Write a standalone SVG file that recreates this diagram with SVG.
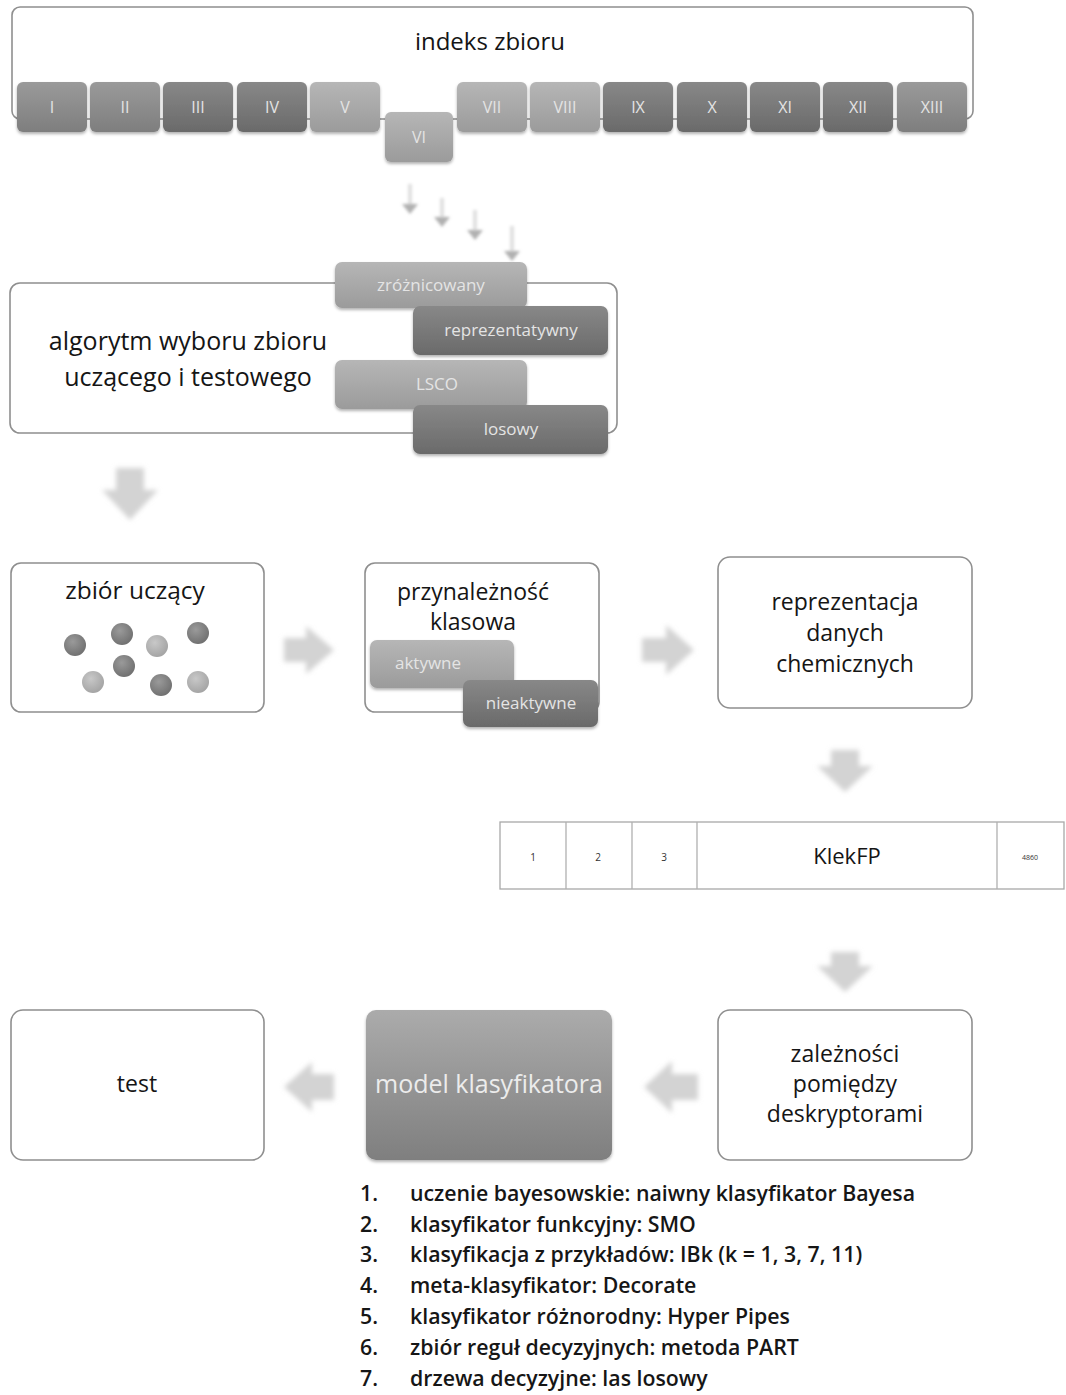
<svg xmlns="http://www.w3.org/2000/svg" width="1066" height="1395" viewBox="0 0 1066 1395">
  <style>
    .frame { fill: #ffffff; stroke: #8f8f8f; stroke-width: 1.6; }
    .lbl { font-family: "Open Sans", Lato, sans-serif; fill: #151515; text-anchor: middle; }
    .big { font-size: 23px; }
    .chip { font-family: "Open Sans", Lato, sans-serif; font-size: 16px; fill: #e4e4e4; text-anchor: middle; }
    .meth { font-size: 17px; }
    .cell { font-family: "Open Sans", Lato, sans-serif; fill: #333; text-anchor: middle; }
    .list { font-family: "Open Sans", Lato, sans-serif; font-size: 21.3px; font-weight: 600; fill: #161616; }
    .flow { fill: #d3d3d3; filter: url(#soft); }
    .thin { fill: #e0e0e0; filter: url(#soft1); }
    .thinhead { fill: #b0b0b0; filter: url(#soft1); }
  </style>
  <defs>
    <linearGradient id="gDark" x1="0" y1="0" x2="0" y2="1">
      <stop offset="0" stop-color="#888888"/>
      <stop offset="1" stop-color="#6a6a6a"/>
    </linearGradient>
    <linearGradient id="gMid" x1="0" y1="0" x2="0" y2="1">
      <stop offset="0" stop-color="#9a9a9a"/>
      <stop offset="1" stop-color="#7e7e7e"/>
    </linearGradient>
    <linearGradient id="gLight" x1="0" y1="0" x2="0" y2="1">
      <stop offset="0" stop-color="#b6b6b6"/>
      <stop offset="1" stop-color="#9b9b9b"/>
    </linearGradient>
    <linearGradient id="gModel" x1="0" y1="0" x2="0" y2="1">
      <stop offset="0" stop-color="#ababab"/>
      <stop offset="1" stop-color="#7f7f7f"/>
    </linearGradient>
    <radialGradient id="dotDark" cx="0.4" cy="0.35" r="0.7">
      <stop offset="0" stop-color="#9a9a9a"/>
      <stop offset="1" stop-color="#6e6e6e"/>
    </radialGradient>
    <radialGradient id="dotLight" cx="0.4" cy="0.35" r="0.7">
      <stop offset="0" stop-color="#c8c8c8"/>
      <stop offset="1" stop-color="#a2a2a2"/>
    </radialGradient>
    <filter id="shadow" x="-10%" y="-20%" width="120%" height="150%">
      <feDropShadow dx="0" dy="2" stdDeviation="1.8" flood-color="#000" flood-opacity="0.3"/>
    </filter>
    <filter id="soft" x="-30%" y="-30%" width="160%" height="160%">
      <feGaussianBlur stdDeviation="2.5"/>
    </filter>
    <filter id="soft1" filterUnits="userSpaceOnUse" x="380" y="170" width="160" height="100">
      <feGaussianBlur stdDeviation="1.8"/>
    </filter>
  </defs>

  <rect width="1066" height="1395" fill="#ffffff"/>

  <!-- dataset index panel with thirteen chips -->
  <g id="indeks">
    <rect class="frame" x="12" y="7" width="961" height="112" rx="8"/>
    <text class="lbl" x="490" y="50" font-size="24">indeks zbioru</text>
    <g filter="url(#shadow)">
      <rect x="17" y="82" width="70" height="50" rx="6" fill="url(#gMid)"/>
      <rect x="90" y="82" width="70" height="50" rx="6" fill="url(#gMid)"/>
      <rect x="163" y="82" width="70" height="50" rx="6" fill="url(#gDark)"/>
      <rect x="237" y="82" width="70" height="50" rx="6" fill="url(#gDark)"/>
      <rect x="310" y="82" width="70" height="50" rx="6" fill="url(#gLight)"/>
      <rect x="385" y="112" width="68" height="50" rx="6" fill="url(#gLight)"/>
      <rect x="457" y="82" width="70" height="50" rx="6" fill="url(#gLight)"/>
      <rect x="530" y="82" width="70" height="50" rx="6" fill="url(#gLight)"/>
      <rect x="603" y="82" width="70" height="50" rx="6" fill="url(#gDark)"/>
      <rect x="677" y="82" width="70" height="50" rx="6" fill="url(#gDark)"/>
      <rect x="750" y="82" width="70" height="50" rx="6" fill="url(#gDark)"/>
      <rect x="823" y="82" width="70" height="50" rx="6" fill="url(#gDark)"/>
      <rect x="897" y="82" width="70" height="50" rx="6" fill="url(#gMid)"/>
    </g>
    <text class="chip" x="52" y="113">I</text>
    <text class="chip" x="125" y="113">II</text>
    <text class="chip" x="198" y="113">III</text>
    <text class="chip" x="272" y="113">IV</text>
    <text class="chip" x="345" y="113">V</text>
    <text class="chip" x="419" y="143">VI</text>
    <text class="chip" x="492" y="113">VII</text>
    <text class="chip" x="565" y="113">VIII</text>
    <text class="chip" x="638" y="113">IX</text>
    <text class="chip" x="712" y="113">X</text>
    <text class="chip" x="785" y="113">XI</text>
    <text class="chip" x="858" y="113">XII</text>
    <text class="chip" x="932" y="113">XIII</text>
  </g>

  <!-- selection algorithm with four methods -->
  <g id="algorytm">
    <rect class="frame" x="10" y="283" width="607" height="150" rx="10"/>
    <text class="lbl" x="188" y="350" font-size="25">algorytm wyboru zbioru</text>
    <text class="lbl" x="188" y="386" font-size="25">uczącego i testowego</text>
    <g filter="url(#shadow)">
      <rect x="335" y="262" width="192" height="46" rx="7" fill="url(#gLight)"/>
      <rect x="413" y="306" width="195" height="49" rx="7" fill="url(#gDark)"/>
      <rect x="335" y="360" width="192" height="49" rx="7" fill="url(#gLight)"/>
      <rect x="413" y="405" width="195" height="49" rx="7" fill="url(#gDark)"/>
    </g>
    <text class="chip meth" x="431" y="291">zróżnicowany</text>
    <text class="chip meth" x="511" y="336">reprezentatywny</text>
    <text class="chip meth" x="437" y="390">LSCO</text>
    <text class="chip meth" x="511" y="435">losowy</text>
  </g>

  <!-- training set -->
  <g id="zbior-uczacy">
    <rect class="frame" x="11" y="563" width="253" height="149" rx="10"/>
    <text class="lbl" x="135" y="599" font-size="24.5">zbiór uczący</text>
    <circle cx="75" cy="645" r="11" fill="url(#dotDark)"/>
    <circle cx="122" cy="634" r="11" fill="url(#dotDark)"/>
    <circle cx="157" cy="646" r="11" fill="url(#dotLight)"/>
    <circle cx="198" cy="633" r="11" fill="url(#dotDark)"/>
    <circle cx="124" cy="666" r="11" fill="url(#dotDark)"/>
    <circle cx="93" cy="682" r="11" fill="url(#dotLight)"/>
    <circle cx="161" cy="685" r="11" fill="url(#dotDark)"/>
    <circle cx="198" cy="682" r="11" fill="url(#dotLight)"/>
  </g>

  <!-- class membership -->
  <g id="przynaleznosc">
    <rect class="frame" x="365" y="563" width="234" height="149" rx="10"/>
    <text class="lbl big" x="473" y="600">przynależność</text>
    <text class="lbl big" x="473" y="630">klasowa</text>
    <g filter="url(#shadow)">
      <rect x="370" y="640" width="144" height="48" rx="7" fill="url(#gLight)"/>
      <rect x="463" y="680" width="135" height="47" rx="7" fill="url(#gDark)"/>
    </g>
    <text class="chip meth" x="428" y="669">aktywne</text>
    <text class="chip meth" x="531" y="709">nieaktywne</text>
  </g>

  <!-- chemical data representation -->
  <g id="reprezentacja">
    <rect class="frame" x="718" y="557" width="254" height="151" rx="12"/>
    <text class="lbl big" x="845" y="610">reprezentacja</text>
    <text class="lbl big" x="845" y="641">danych</text>
    <text class="lbl big" x="845" y="672">chemicznych</text>
  </g>

  <!-- fingerprint bit vector -->
  <g id="klekfp">
    <rect x="500" y="822" width="564" height="67" fill="#ffffff" stroke="#a8a8a8" stroke-width="1.3"/>
    <g stroke="#b0b0b0" stroke-width="1.3">
      <line x1="566" y1="822" x2="566" y2="889"/>
      <line x1="632" y1="822" x2="632" y2="889"/>
      <line x1="697" y1="822" x2="697" y2="889"/>
      <line x1="997" y1="822" x2="997" y2="889"/>
    </g>
    <text class="cell" x="533" y="861" font-size="10">1</text>
    <text class="cell" x="598" y="861" font-size="10">2</text>
    <text class="cell" x="664" y="861" font-size="10">3</text>
    <text class="lbl" x="847" y="864" font-size="22">KlekFP</text>
    <text class="cell" x="1030" y="860" font-size="7">4860</text>
  </g>

  <!-- test -->
  <g id="test">
    <rect class="frame" x="11" y="1010" width="253" height="150" rx="12"/>
    <text class="lbl big" x="137" y="1092">test</text>
  </g>

  <!-- classifier model -->
  <g id="model">
    <rect x="366" y="1010" width="246" height="150" rx="10" fill="url(#gModel)" filter="url(#shadow)"/>
    <text class="lbl" x="489" y="1093" font-size="25" style="fill:#ececec">model klasyfikatora</text>
  </g>

  <!-- descriptor dependencies -->
  <g id="zaleznosci">
    <rect class="frame" x="718" y="1010" width="254" height="150" rx="12"/>
    <text class="lbl big" x="845" y="1062">zależności</text>
    <text class="lbl big" x="845" y="1092">pomiędzy</text>
    <text class="lbl big" x="845" y="1122">deskryptorami</text>
  </g>

  <!-- classifier list -->
  <g id="lista" class="list">
    <text x="360" y="1201">1.</text><text x="410" y="1201">uczenie bayesowskie: naiwny klasyfikator Bayesa</text>
    <text x="360" y="1232">2.</text><text x="410" y="1232">klasyfikator funkcyjny: SMO</text>
    <text x="360" y="1262">3.</text><text x="410" y="1262">klasyfikacja z przykładów: IBk (k = 1, 3, 7, 11)</text>
    <text x="360" y="1293">4.</text><text x="410" y="1293">meta-klasyfikator: Decorate</text>
    <text x="360" y="1324">5.</text><text x="410" y="1324">klasyfikator różnorodny: Hyper Pipes</text>
    <text x="360" y="1355">6.</text><text x="410" y="1355">zbiór reguł decyzyjnych: metoda PART</text>
    <text x="360" y="1386">7.</text><text x="410" y="1386">drzewa decyzyjne: las losowy</text>
  </g>

  <!-- connectors -->
  <g id="connectors">
    <!-- four thin arrows from chip VI to the methods -->
    <rect class="thin" x="408" y="184" width="4" height="22"/>
    <path class="thinhead" d="M402,204 L418,204 L410,214 Z"/>
    <rect class="thin" x="440" y="198" width="4" height="20"/>
    <path class="thinhead" d="M434,217 L450,217 L442,227 Z"/>
    <rect class="thin" x="473" y="210" width="4" height="21"/>
    <path class="thinhead" d="M467,230 L483,230 L475,240 Z"/>
    <rect class="thin" x="510" y="226" width="4" height="26"/>
    <path class="thinhead" d="M504,251 L520,251 L512,261 Z"/>

    <!-- block arrows -->
    <path class="flow" d="M116,468 h28 v22 h14 l-28,30 l-28,-30 h14 z"/>
    <path class="flow" d="M284,638 h22 v-12 l28,24 l-28,24 v-12 h-22 z"/>
    <path class="flow" d="M642,638 h24 v-13 l28,25 l-28,25 v-13 h-24 z"/>
    <path class="flow" d="M831,750 h28 v16 h14 l-28,26 l-28,-26 h14 z"/>
    <path class="flow" d="M831,952 h28 v14 h14 l-28,26 l-28,-26 h14 z"/>
    <path class="flow" d="M334,1074 h-22 v-12 l-28,25 l28,25 v-12 h22 z"/>
    <path class="flow" d="M698,1074 h-26 v-13 l-28,26 l28,26 v-13 h26 z"/>
  </g>
</svg>
